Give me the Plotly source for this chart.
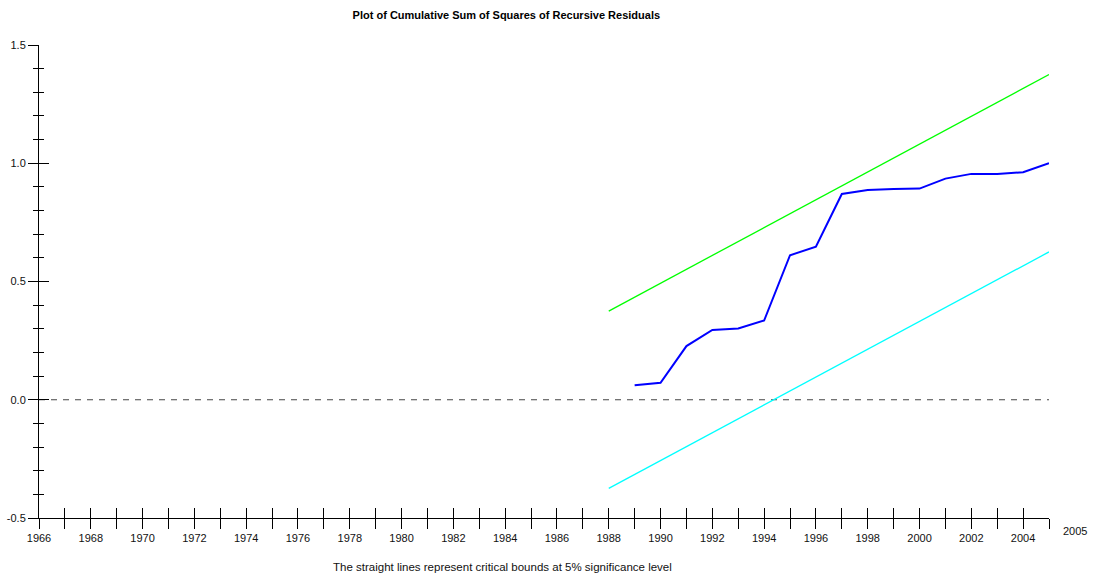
import plotly.graph_objects as go

# ---- data ----
years = list(range(1989, 2006))
cusumsq = [0.061, 0.072, 0.227, 0.295, 0.301, 0.335, 0.611, 0.647, 0.870,
           0.887, 0.891, 0.893, 0.935, 0.955, 0.955, 0.962, 1.000]
bound_years = [1988, 2005]
upper_bound = [0.375, 1.375]
lower_bound = [-0.375, 0.625]
zero_years = [1966, 2005]
zero_line = [0.0, 0.0]
tick_years = list(range(1966, 2006))
tick_labels = [str(y) if (y % 2 == 0 and y < 2005) else "" for y in tick_years]
end_label = "2005"
y_tick_vals = [-0.5, 0.0, 0.5, 1.0, 1.5]
y_tick_labels = ["-0.5", "0.0", "0.5", "1.0", "1.5"]

FONT = "Liberation Sans, Arial, sans-serif"

fig = go.Figure()
fig.add_trace(go.Scatter(x=zero_years, y=zero_line, mode="lines",
                         line=dict(color="#444444", width=1, dash="6px,6px"),
                         hoverinfo="skip"))
fig.add_trace(go.Scatter(x=bound_years, y=upper_bound, mode="lines",
                         line=dict(color="#00ff00", width=1.3)))
fig.add_trace(go.Scatter(x=bound_years, y=lower_bound, mode="lines",
                         line=dict(color="#00ffff", width=1.3)))
fig.add_trace(go.Scatter(x=years, y=cusumsq, mode="lines",
                         line=dict(color="#0000ff", width=2)))
# invisible trace on overlay axes so they render
fig.add_trace(go.Scatter(x=zero_years, y=zero_line, mode="lines", xaxis="x2", yaxis="y2",
                         line=dict(color="rgba(0,0,0,0)", width=0), hoverinfo="skip"))

xrange = [1966, 2005]
yrange = [-0.5, 1.5]

fig.update_layout(
    width=1096, height=577,
    margin=dict(l=39, r=47, t=45, b=59),
    paper_bgcolor="white", plot_bgcolor="white",
    showlegend=False,
    font=dict(family=FONT, size=11, color="#111111"),
    title=dict(text="<b>Plot of Cumulative Sum of Squares of Recursive Residuals</b>",
               x=0.462, xanchor="center", y=0.974, yanchor="middle",
               font=dict(family=FONT, size=11, color="black")),
    xaxis=dict(range=xrange, tickmode="array", tickvals=tick_years, ticktext=tick_labels,
               ticks="outside", ticklen=10, tickcolor="black", tickwidth=1,
               showline=True, linecolor="black", linewidth=1, showgrid=False,
               zeroline=False, automargin=False, tickangle=0,
               tickfont=dict(size=11, color="#111111")),
    xaxis2=dict(range=xrange, overlaying="x", anchor="y2", side="bottom",
                tickmode="array", tickvals=tick_years, showticklabels=False,
                ticks="inside", ticklen=10, tickcolor="black", tickwidth=1,
                showline=False, showgrid=False, zeroline=False, automargin=False),
    yaxis=dict(range=yrange, tickmode="array", tickvals=y_tick_vals, ticktext=y_tick_labels,
               ticks="outside", ticklen=10, tickcolor="black", tickwidth=1,
               minor=dict(dtick=0.1, tick0=-0.5, ticks="outside", ticklen=5,
                          tickcolor="black", tickwidth=1, showgrid=False),
               showline=True, linecolor="black", linewidth=1, showgrid=False,
               zeroline=False, ticklabelstandoff=0, automargin=False,
               tickfont=dict(size=11, color="#111111")),
    yaxis2=dict(range=yrange, overlaying="y", anchor="x2", side="left",
                tickmode="linear", tick0=-0.5, dtick=0.5, showticklabels=False,
                ticks="inside", ticklen=10, tickcolor="black", tickwidth=1,
                minor=dict(dtick=0.1, tick0=-0.5, ticks="inside", ticklen=5,
                           tickcolor="black", tickwidth=1, showgrid=False),
                showline=False, showgrid=False, zeroline=False, automargin=False),
    annotations=[
        dict(x=2005, y=0, xref="x", yref="paper", text=end_label, showarrow=False,
             xanchor="center", yanchor="top", xshift=26, yshift=-5,
             font=dict(family=FONT, size=11, color="#111111")),
        dict(x=0.459, y=-0.103, xref="paper", yref="paper",
             text="The straight lines represent critical bounds at 5% significance level",
             showarrow=False, xanchor="center", yanchor="middle",
             font=dict(family=FONT, size=11.5, color="#111111")),
    ],
)

fig.write_html("out.html", config={"displayModeBar": False},
               post_script="document.body.style.margin='0';document.body.style.padding='0';"
                           "document.body.style.overflow='hidden';")
